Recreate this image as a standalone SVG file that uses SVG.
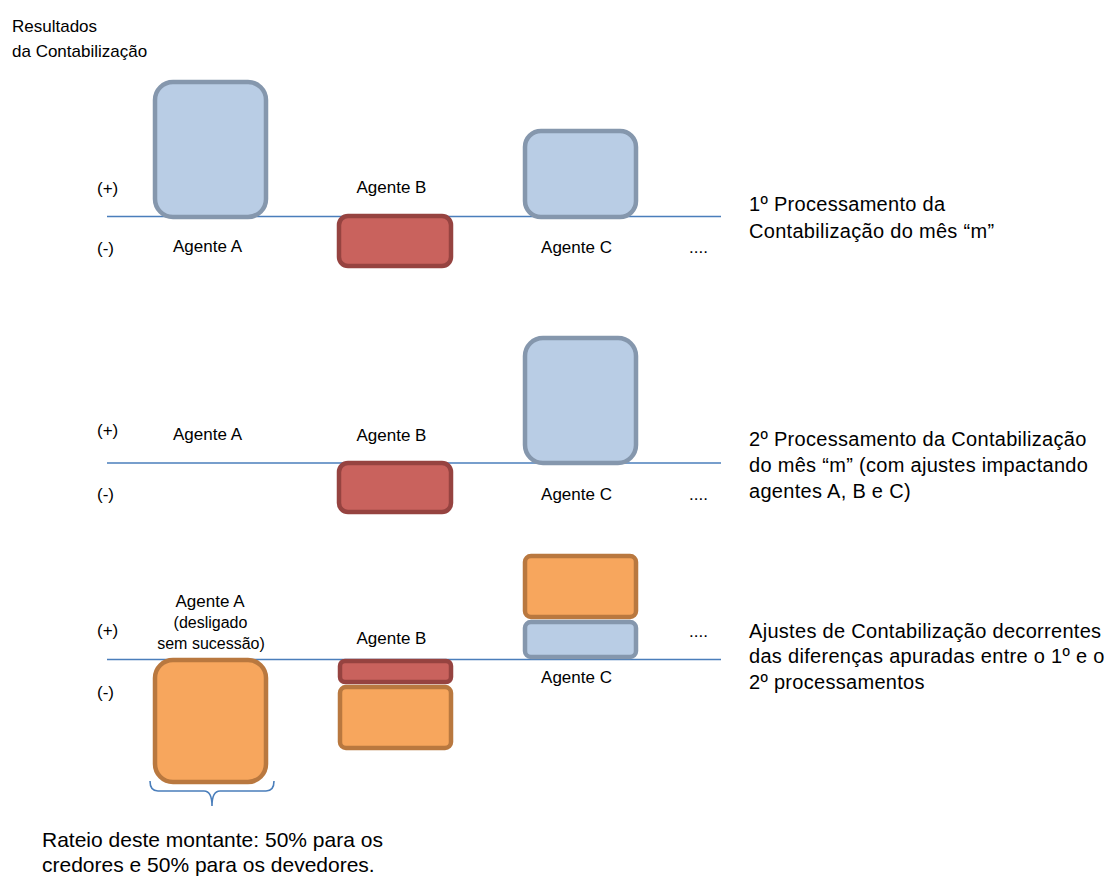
<svg xmlns="http://www.w3.org/2000/svg" width="1109" height="876" viewBox="0 0 1109 876">
<style>
text{font-family:"Liberation Sans",Arial,sans-serif;fill:#000}
.lbl{font-size:17px}
.sm{font-size:16px}
.rt{font-size:20px;letter-spacing:0.3px}
.bt{font-size:21px}
.c{text-anchor:middle}
.axis{stroke:#4a7ebb;stroke-width:1.6;fill:none}
.blue{fill:#b9cde5;stroke:#8597ad;stroke-width:4.5}
.red{fill:#c9625d;stroke:#964340;stroke-width:4.5}
.orange{fill:#f7a65d;stroke:#b9783f;stroke-width:4.5}
</style>
<rect width="1109" height="876" fill="#fff"/>
<g id="title">
<text class="lbl" x="12" y="32">Resultados</text>
<text class="lbl" x="12" y="57">da Contabilização</text>
</g>
<g id="connectors">
<line class="axis" x1="107" y1="216.5" x2="721" y2="216.5"/>
<line class="axis" x1="107" y1="463" x2="721" y2="463"/>
<line class="axis" x1="107" y1="659.5" x2="721" y2="659.5"/>
<path class="axis" d="M150,781 Q150,791 158,791 L204,791 Q212,791 212,806 Q212,791 220,791 L266,791 Q274,791 274,781"/>
</g>
<g id="row1">
<text class="lbl" x="97" y="194">(+)</text>
<text class="lbl" x="97" y="254">(-)</text>
<g id="r1-agenteA"><rect class="blue" x="155" y="82" width="111" height="135" rx="18"/><text class="lbl c" x="207.5" y="252">Agente A</text></g>
<g id="r1-agenteB"><rect class="red" x="339" y="216" width="112" height="50" rx="9"/><text class="lbl c" x="391.5" y="193">Agente B</text></g>
<g id="r1-agenteC"><rect class="blue" x="525" y="131" width="111" height="86" rx="16"/><text class="lbl c" x="576.5" y="253">Agente C</text></g>
<text class="lbl" x="689" y="253">....</text>
<text class="rt" x="749" y="211">1º Processamento da</text>
<text class="rt" x="749" y="238">Contabilização do mês “m”</text>
</g>
<g id="row2">
<text class="lbl" x="97" y="436">(+)</text>
<text class="lbl" x="97" y="500">(-)</text>
<g id="r2-agenteA"><text class="lbl c" x="207.5" y="440">Agente A</text></g>
<g id="r2-agenteB"><rect class="red" x="339" y="463" width="112" height="49" rx="9"/><text class="lbl c" x="391.5" y="441">Agente B</text></g>
<g id="r2-agenteC"><rect class="blue" x="525" y="338" width="111" height="125" rx="18"/><text class="lbl c" x="576.5" y="500">Agente C</text></g>
<text class="lbl" x="689" y="500">....</text>
<text class="rt" x="749" y="446">2º Processamento da Contabilização</text>
<text class="rt" x="749" y="472">do mês “m” (com ajustes impactando</text>
<text class="rt" x="749" y="498">agentes A, B e C)</text>
</g>
<g id="row3">
<text class="lbl" x="97" y="636">(+)</text>
<text class="lbl" x="97" y="698">(-)</text>
<g id="r3-agenteA"><rect class="orange" x="155" y="660" width="111" height="122" rx="18"/>
<text class="lbl c" x="210" y="607">Agente A</text>
<text class="sm c" x="210.5" y="628">(desligado</text>
<text class="sm c" x="211" y="649">sem sucessão)</text></g>
<g id="r3-agenteB"><rect class="red" x="340" y="661" width="111" height="21" rx="5"/><rect class="orange" x="340" y="687" width="111" height="61" rx="6"/><text class="lbl c" x="391.5" y="644">Agente B</text></g>
<g id="r3-agenteC"><rect class="orange" x="525" y="556" width="111" height="61" rx="6"/><rect class="blue" x="525" y="622" width="111" height="35" rx="6"/><text class="lbl c" x="576.5" y="683">Agente C</text></g>
<text class="lbl" x="689" y="637">....</text>
<text class="rt" x="749" y="638">Ajustes de Contabilização decorrentes</text>
<text class="rt" x="749" y="663">das diferenças apuradas entre o 1º e o</text>
<text class="rt" x="749" y="689">2º processamentos</text>
</g>
<g id="note">
<text class="bt" x="42" y="847">Rateio deste montante: 50% para os</text>
<text class="bt" x="42" y="872">credores e 50% para os devedores.</text>
</g>
</svg>
